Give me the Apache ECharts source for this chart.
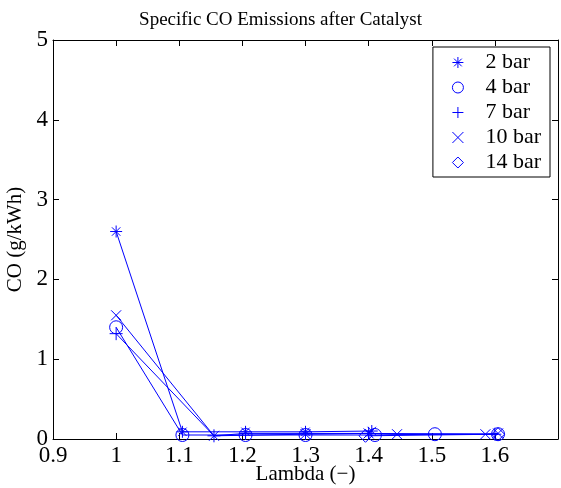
<!DOCTYPE html>
<html>
<head>
<meta charset="utf-8">
<script src="https://cdn.jsdelivr.net/npm/echarts@6/dist/echarts.min.js"></script>
<style>
  html, body { margin: 0; padding: 0; background: #fff; }
  #main { width: 561px; height: 488px; }
</style>
</head>
<body>
<div id="main"></div>
<script>
// lambda (x) and CO (y) per pressure
const lambda2bar = [1.0, 1.105, 1.205, 1.30, 1.405];
const co2bar     = [2.60, 0.09, 0.09, 0.09, 0.10];
const lambda4bar = [1.0, 1.105, 1.205, 1.30, 1.41, 1.505, 1.605];
const co4bar     = [1.40, 0.05, 0.05, 0.05, 0.05, 0.06, 0.06];
const lambda7bar = [1.0, 1.155, 1.205, 1.30, 1.40, 1.60];
const co7bar     = [1.32, 0.04, 0.07, 0.07, 0.07, 0.06];
const lambda10bar = [1.0, 1.155, 1.30, 1.40, 1.445, 1.585, 1.605];
const co10bar     = [1.55, 0.04, 0.06, 0.07, 0.06, 0.06, 0.07];
const lambda14bar = [1.395, 1.605];
const co14bar     = [0.04, 0.06];
const seriesNames = ['2 bar', '4 bar', '7 bar', '10 bar', '14 bar'];

const BLUE = '#0000ff';
const FONT = 'Liberation Serif';

const starPath = 'path://M5,0L5,10M0,5L10,5M1.5,1.5L8.5,8.5M1.5,8.5L8.5,1.5';
const plusPath = 'path://M5,0L5,10M0,5L10,5';
const crossPath = 'path://M0,0L10,10M0,10L10,0';
const symbols = [starPath, 'circle', plusPath, crossPath, 'diamond'];
const sizes = [12, 13, 13, 10, 13];

const xs = [lambda2bar, lambda4bar, lambda7bar, lambda10bar, lambda14bar];
const ys = [co2bar, co4bar, co7bar, co10bar, co14bar];

function pairs(x, y) {
    return x.map((v, i) => [v, y[i]]);
}

const series = seriesNames.map((name, i) => ({
    name: name,
    type: 'line',
    data: pairs(xs[i], ys[i]),
    symbol: symbols[i],
    symbolSize: sizes[i],
    showAllSymbol: true,
    lineStyle: { color: BLUE, width: 1 },
    itemStyle: { color: 'transparent', borderColor: BLUE, borderWidth: 1 },
    emphasis: { disabled: true },
    silent: true,
    animation: false
}));

function tickFmt(v) {
    const r = parseFloat(v.toFixed(1));
    if (r > 1.65) return '';
    return String(r);
}

const axisCommon = {
    axisLine: { show: true, onZero: false, lineStyle: { color: '#000', width: 1 } },
    axisTick: { show: true, inside: true, length: 6, lineStyle: { color: '#000' } },
    splitLine: { show: false }
};

const chart = echarts.init(document.getElementById('main'));
chart.setOption({
    animation: false,
    backgroundColor: '#fff',
    color: [BLUE],
    title: {
        text: 'Specific CO Emissions after Catalyst',
        left: 'center',
        top: 6,
        textStyle: { fontFamily: FONT, fontSize: 19, fontWeight: 'normal', color: '#000' }
    },
    grid: { left: 53, right: 3, top: 40, bottom: 49, outerBoundsMode: 'none', containLabel: false },
    legend: {
        data: seriesNames.map((n, i) => ({
            name: n,
            icon: symbols[i],
            itemStyle: { color: 'transparent', borderColor: BLUE, borderWidth: 1 }
        })),
        orient: 'vertical',
        right: 11,
        top: 47,
        itemGap: 0,
        itemWidth: 11,
        itemHeight: 11,
        padding: [3, 9, 2, 19],
        borderColor: '#000',
        borderWidth: 1,
        backgroundColor: '#fff',
        itemStyle: { color: 'transparent', borderColor: BLUE, borderWidth: 1 },
        lineStyle: { width: 0 },
        textStyle: { fontFamily: FONT, fontSize: 22, lineHeight: 25, color: '#000', padding: [0, 0, 0, 17] },
        selectedMode: false
    },
    xAxis: [
        Object.assign({}, axisCommon, {
            type: 'value', min: 0.9, max: 1.7, interval: 0.1,
            name: 'Lambda (\u2212)',
            nameLocation: 'middle',
            nameGap: 25,
            nameMoveOverlap: false,
            nameTextStyle: { fontFamily: FONT, fontSize: 21, color: '#000' },
            axisLabel: { fontFamily: FONT, fontSize: 23, color: '#000', margin: 5, formatter: tickFmt }
        }),
        Object.assign({}, axisCommon, {
            type: 'value', min: 0.9, max: 1.7, interval: 0.1, position: 'top',
            axisLabel: { show: false }
        })
    ],
    yAxis: [
        Object.assign({}, axisCommon, {
            type: 'value', min: 0, max: 5, interval: 1,
            name: 'CO (g/kWh)',
            nameLocation: 'middle',
            nameGap: 27,
            nameMoveOverlap: false,
            nameTextStyle: { fontFamily: FONT, fontSize: 21, color: '#000' },
            axisLabel: { fontFamily: FONT, fontSize: 23, color: '#000', margin: 5 }
        }),
        Object.assign({}, axisCommon, {
            type: 'value', min: 0, max: 5, interval: 1, position: 'right',
            axisLabel: { show: false }
        })
    ],
    series: series
});
</script>
</body>
</html>
